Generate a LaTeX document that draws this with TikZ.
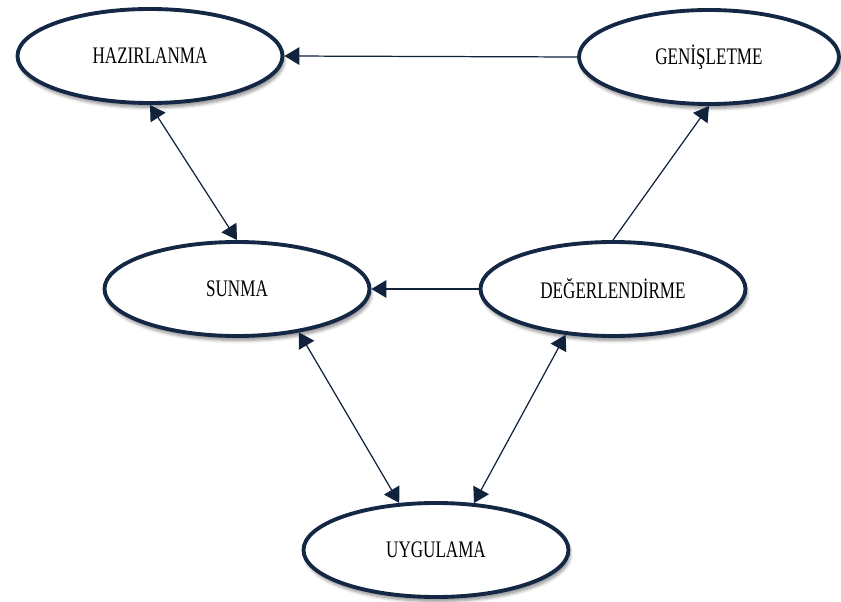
\documentclass[tikz,border=0pt]{standalone}
\usepackage{fontspec}
\setmainfont{Liberation Serif}[FakeStretch=0.72]
\usetikzlibrary{shapes.geometric,arrows.meta,shadows.blur}
\definecolor{navy}{RGB}{20,40,70}

\begin{document}
\begin{tikzpicture}[
	phase/.style={draw=navy, line width=2.2pt, ellipse, fill=white, minimum width=5.3cm, minimum height=1.88cm, inner sep=0pt, font=\fontsize{13.5}{15}\selectfont, blur shadow={shadow xshift=1pt, shadow yshift=-2.5pt, shadow opacity=45, shadow blur steps=6}},
	link/.style={draw=navy!85!black, line width=0.7pt, >={Triangle[length=8.5pt,width=10pt]}}
	]
	\useasboundingbox (0,0) rectangle (16.82,-12.04);
	\node[phase] (HAZ) at (3.00, -1.12) {HAZIRLANMA};
	\node[phase, minimum width=5.2cm] (GEN) at (14.18, -1.14) {GENİŞLETME};
	\node[phase] (SUN) at (4.74, -5.78) {SUNMA};
	\node[phase] (DEG) at (12.26, -5.78) {DEĞERLENDİRME};
	\node[phase] (UYG) at (8.72, -11.00) {UYGULAMA};
	\draw[link, ->] (GEN.west) -- (HAZ.east);
	\draw[link, <->] (HAZ.south) -- (SUN.north);
	\draw[link, ->] (DEG.north) -- (GEN.south);
	\draw[link, ->] (DEG.west) -- (SUN.east);
	\draw[link, <->] (SUN.-35) -- (UYG.128);
	\draw[link, <->] (DEG.-136) -- (UYG.51);
\end{tikzpicture}
\end{document}
